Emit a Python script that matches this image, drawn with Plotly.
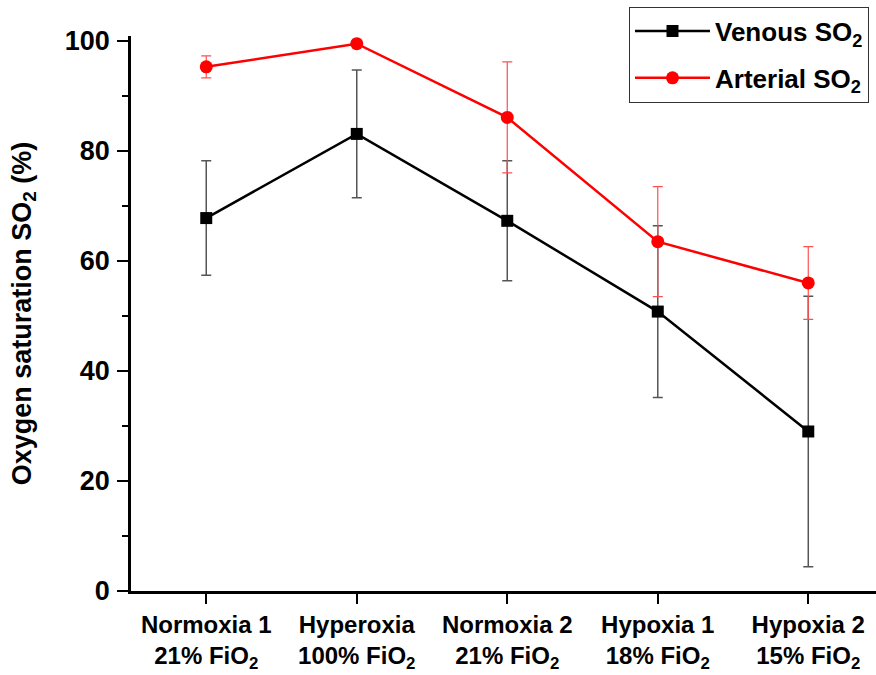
import plotly.graph_objects as go

categories = ["Normoxia 1<br>21% FiO<sub>2</sub>", "Hyperoxia<br>100% FiO<sub>2</sub>",
              "Normoxia 2<br>21% FiO<sub>2</sub>", "Hypoxia 1<br>18% FiO<sub>2</sub>",
              "Hypoxia 2<br>15% FiO<sub>2</sub>"]
x_pos = [0, 1, 2, 3, 4]
venous = [67.8, 83.1, 67.3, 50.8, 29.0]
venous_err = [10.4, 11.6, 10.9, 15.6, 24.6]
arterial = [95.3, 99.5, 86.1, 63.5, 56.0]
arterial_err = [2.0, 0.0, 10.1, 10.0, 6.6]
y_ticks = [0, 20, 40, 60, 80, 100]

FONT = "Liberation Sans, Arial, sans-serif"

fig = go.Figure()
fig.add_trace(go.Scatter(
    x=x_pos, y=venous, mode="lines+markers", name="<b>Venous SO<sub>2</sub></b>",
    legendgroup="v",
    line=dict(color="black", width=2.5),
    marker=dict(symbol="square", size=12, color="black"),
    error_y=dict(type="data", array=venous_err, visible=True, color="#555555", thickness=1.5, width=5),
))
fig.add_trace(go.Scatter(
    x=x_pos, y=arterial, mode="lines+markers", name="<b>Arterial SO<sub>2</sub></b>",
    legendgroup="a",
    line=dict(color="#ff0000", width=2.5),
    marker=dict(symbol="circle", size=13, color="#ff0000"),
    error_y=dict(type="data", array=arterial_err, visible=True, color="#ff5050", thickness=1.2, width=5),
))

fig.update_layout(
    width=876, height=675,
    margin=dict(l=131, r=0, t=36, b=84),
    paper_bgcolor="white", plot_bgcolor="white",
    font=dict(family=FONT, color="black"),
    showlegend=True,
    legend=dict(
        x=0.9906, y=1.053, xanchor="right", yanchor="top",
        bgcolor="white", bordercolor="#333333", borderwidth=1,
        font=dict(size=26, family=FONT, color="black"),
        itemwidth=75, tracegroupgap=10,
    ),
    xaxis=dict(
        range=[-0.5, 4.45], tickmode="array", tickvals=x_pos,
        ticktext=["<b>" + c.replace("<br>", "</b><br><b>") + "</b>" for c in categories],
        showline=True, linecolor="black", linewidth=2.5,
        ticks="outside", ticklen=10, tickwidth=2, tickcolor="black",
        showgrid=False, zeroline=False,
        tickfont=dict(size=24, family=FONT, color="black"),
    ),
    yaxis=dict(
        range=[0, 100.9], tickmode="array", tickvals=y_ticks,
        ticktext=["<b>%d</b>" % v for v in y_ticks],
        showline=True, linecolor="black", linewidth=2.5,
        ticks="outside", ticklen=11, tickwidth=2, tickcolor="black",
        minor=dict(dtick=10, ticks="outside", ticklen=6, tickwidth=2, tickcolor="black", showgrid=False),
        showgrid=False, zeroline=False,
        ticklabelstandoff=2,
        tickfont=dict(size=27, family=FONT, color="black"),
        title=dict(text="<b>Oxygen saturation SO<sub>2</sub> (%)</b>", font=dict(size=27, family=FONT, color="black"), standoff=26),
    ),
)

fig.write_html("out.html")
